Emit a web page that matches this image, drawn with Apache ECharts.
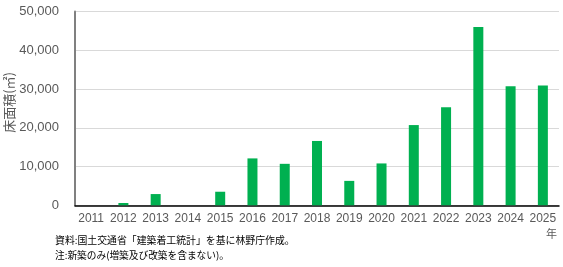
<!DOCTYPE html>
<html><head><meta charset="utf-8">
<script src="https://cdn.jsdelivr.net/npm/echarts@6/dist/echarts.min.js"></script>
<style>html,body{margin:0;padding:0;background:#fff}#c{width:563px;height:267px}</style>
</head><body><div id="c"></div>
<script>
const years = ['2011','2012','2013','2014','2015','2016','2017','2018','2019','2020','2021','2022','2023','2024','2025'];
const floorArea = [0, 600, 2900, 0, 3500, 12100, 10700, 16600, 6300, 10800, 20700, 25300, 46000, 30700, 30900];
const yTicks = {min: 0, max: 50000, interval: 10000};
const axisName = '床面積(㎡)';
const unitLabel = '年';
const notes = ['資料:国土交通省「建築着工統計」を基に林野庁作成。', '注:新築のみ(増築及び改築を含まない)。'];

const font = '"Noto Sans CJK JP", "Liberation Sans", sans-serif';
const chart = echarts.init(document.getElementById('c'), null, {renderer: 'canvas'});
chart.setOption({
  animation: false,
  grid: {left: 75, right: 4, top: 11.5, bottom: 61.7, containLabel: false},
  xAxis: {
    type: 'category', data: years,
    axisLine: {lineStyle: {color: '#000', width: 1.5}},
    axisTick: {show: false},
    axisLabel: {color: '#595959', fontSize: 12, fontFamily: '"Liberation Sans", Arial, sans-serif', margin: 7, interval: 0}
  },
  yAxis: {
    type: 'value', min: yTicks.min, max: yTicks.max, interval: yTicks.interval,
    axisLine: {show: true, lineStyle: {color: '#808080', width: 2}},
    axisTick: {show: false},
    splitLine: {lineStyle: {color: '#d9d9d9', width: 1}},
    axisLabel: {color: '#595959', fontSize: 13, fontFamily: '"Liberation Sans", Arial, sans-serif', margin: 16,
      formatter: v => v.toLocaleString('en-US')}
  },
  series: [{
    type: 'bar', data: floorArea, barWidth: 10,
    itemStyle: {color: '#00B050'}
  }],
  graphic: [
    {type: 'text', left: 3, top: 72, rotation: Math.PI/2, style: {text: axisName, fill: '#595959', font: '13px ' + font}},
    {type: 'text', right: 6, top: 228, style: {text: unitLabel, fill: '#595959', font: '11px ' + font}},
    {type: 'text', left: 55, top: 235, style: {text: notes[0], fill: '#000', font: '9.9px ' + font}},
    {type: 'text', left: 55, top: 250, style: {text: notes[1], fill: '#000', font: '9.7px ' + font}}
  ]
});
</script></body></html>
